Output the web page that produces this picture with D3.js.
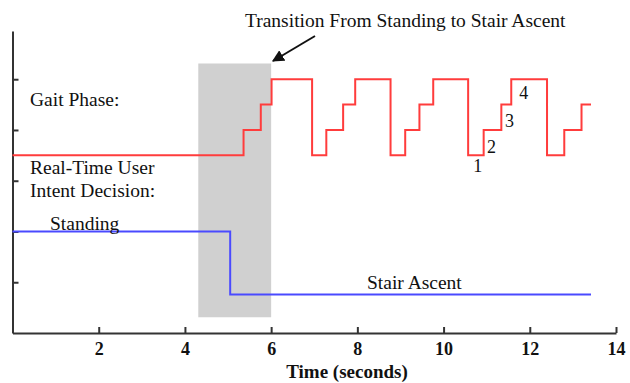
<!DOCTYPE html>
<html>
<head>
<meta charset="utf-8">
<script src="https://cdn.jsdelivr.net/npm/d3@7"></script>
<style>
  body { margin: 0; background: #fff; }
  text { font-family: "Liberation Serif", "Times New Roman", serif; fill: #111; }
  .axis path, .axis line { stroke: #333; stroke-width: 2; }
  .axis text { font-size: 18px; font-weight: bold; }
</style>
</head>
<body>
<div id="chart"></div>
<script>
// time ticks on the x axis
var timeTicks = [2, 4, 6, 8, 10, 12, 14];
var levelTicks = [1, 2, 3, 4, 5];

// gait phase (1..4) switch times, step-after
var gaitTimes  = [0, 5.36, 5.76, 6.01, 6.95, 7.28, 7.67, 7.95, 8.77, 9.11, 9.44, 9.76, 10.57, 10.93, 11.34, 11.57, 12.40, 12.80, 13.20, 13.42];
var gaitPhases = [1, 2, 3, 4, 1, 2, 3, 4, 1, 2, 3, 4, 1, 2, 3, 4, 1, 2, 3, 3];

// user intent decision level
var intentTimes  = [0, 5.05, 13.42];
var intentLevels = [2, 0.76, 0.76];

// shaded transition window
var transitionWindow = [4.31, 6.0];
var transitionLevels = [0.31, 5.31];

var width = 630, height = 383;

var svg = d3.select("#chart").append("svg")
    .attr("width", width)
    .attr("height", height);

var x = d3.scaleLinear().domain([0, 14]).range([12.5, 616]);
var y = d3.scaleLinear().domain([0, 5.95]).range([333, 31]);
// gait phases sit in the upper band of the plot
var phaseLevel = d3.scaleLinear().domain([1, 4]).range([3.5, 5]);

// gray transition box
svg.append("rect")
    .attr("x", x(transitionWindow[0]))
    .attr("y", y(transitionLevels[1]))
    .attr("width", x(transitionWindow[1]) - x(transitionWindow[0]))
    .attr("height", y(transitionLevels[0]) - y(transitionLevels[1]))
    .attr("fill", "#d0d0d0");

// axes
svg.append("g")
    .attr("class", "axis")
    .attr("transform", "translate(0," + y(0) + ")")
    .call(d3.axisBottom(x).tickValues(timeTicks).tickSizeInner(-6).tickSizeOuter(0).tickPadding(9));

svg.append("g")
    .attr("class", "axis")
    .attr("transform", "translate(" + x(0) + ",0)")
    .call(d3.axisLeft(y).tickValues(levelTicks).tickFormat("").tickSizeInner(-6).tickSizeOuter(0));

var line = d3.line()
    .x(function(d) { return x(d[0]); })
    .y(function(d) { return y(d[1]); })
    .curve(d3.curveStepAfter);

var gaitData = gaitTimes.map(function(t, i) { return [t, phaseLevel(gaitPhases[i])]; });
var intentData = intentTimes.map(function(t, i) { return [t, intentLevels[i]]; });

svg.append("path")
    .datum(gaitData)
    .attr("d", line)
    .attr("fill", "none")
    .attr("stroke", "#ff3c3c")
    .attr("stroke-width", 2);

svg.append("path")
    .datum(intentData)
    .attr("d", line)
    .attr("fill", "none")
    .attr("stroke", "#4a4aff")
    .attr("stroke-width", 2);

// labels
svg.append("text").attr("x", 245).attr("y", 27).style("font-size", "19.5px")
    .text("Transition From Standing to Stair Ascent");

svg.append("defs").append("marker")
    .attr("id", "arrow")
    .attr("viewBox", "0 0 10 10")
    .attr("refX", 9).attr("refY", 5)
    .attr("markerWidth", 6).attr("markerHeight", 6)
    .attr("orient", "auto")
  .append("path")
    .attr("d", "M0,0L10,5L0,10z")
    .attr("fill", "#111");

svg.append("line")
    .attr("x1", 315).attr("y1", 36)
    .attr("x2", 273).attr("y2", 61)
    .attr("stroke", "#111").attr("stroke-width", 2)
    .attr("marker-end", "url(#arrow)");

svg.append("text").attr("x", 30).attr("y", 106).style("font-size", "19.5px").text("Gait Phase:");
svg.append("text").attr("x", 30).attr("y", 174).style("font-size", "19.5px").text("Real-Time User");
svg.append("text").attr("x", 30).attr("y", 197).style("font-size", "19.5px").text("Intent Decision:");
svg.append("text").attr("x", 50).attr("y", 230).style("font-size", "19.5px").text("Standing");
svg.append("text").attr("x", 367).attr("y", 289).style("font-size", "19.5px").text("Stair Ascent");

// phase number labels
var phaseLabels = [
  {t: 10.79, p: 1, dy: 16.5, txt: "1"},
  {t: 11.11, p: 2, dy: 23, txt: "2"},
  {t: 11.53, p: 3, dy: 22, txt: "3"},
  {t: 11.86, p: 4, dy: 20, txt: "4"}
];
svg.selectAll(".phase-label")
    .data(phaseLabels)
    .enter().append("text")
    .attr("class", "phase-label")
    .attr("text-anchor", "middle")
    .attr("x", function(d) { return x(d.t); })
    .attr("y", function(d) { return y(phaseLevel(d.p)) + d.dy; })
    .style("font-size", "18px")
    .text(function(d) { return d.txt; });

svg.append("text")
    .attr("x", 347).attr("y", 378)
    .attr("text-anchor", "middle")
    .style("font-size", "19px").style("font-weight", "bold")
    .text("Time (seconds)");
</script>
</body>
</html>
